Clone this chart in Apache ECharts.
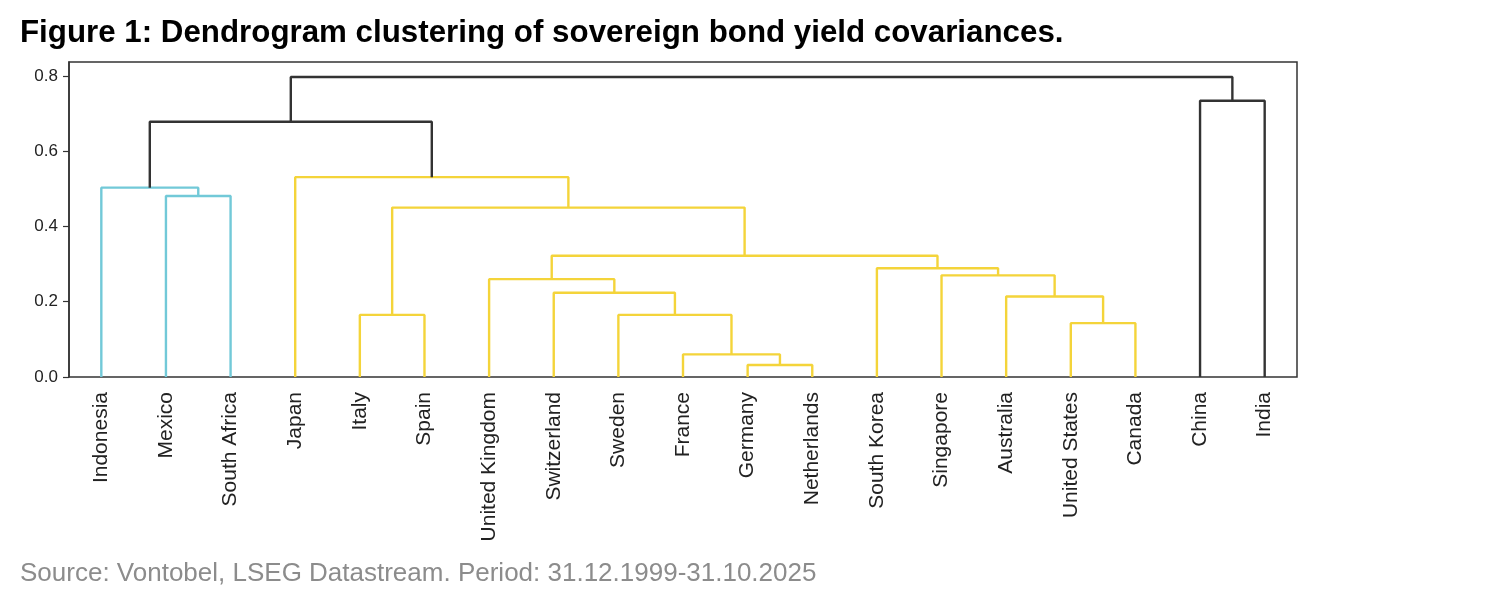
<!DOCTYPE html>
<html>
<head>
<meta charset="utf-8">
<script src="https://cdn.jsdelivr.net/npm/echarts@6/dist/echarts.min.js"></script>
<style>
html,body{margin:0;padding:0;background:#fff;}
#c{width:1500px;height:604px;}
</style>
</head>
<body>
<div id="c"></div>
<script>
// ---- Data ----
var leaves = ['Indonesia','Mexico','South Africa','Japan','Italy','Spain','United Kingdom','Switzerland','Sweden','France','Germany','Netherlands','South Korea','Singapore','Australia','United States','Canada','China','India'];
// Linkage rows: [left id, right id] (ids >= leaves.length refer to earlier merges)
var mergePairs = [
  [10, 11], [9, 19], [8, 20], [7, 21], [6, 22],
  [15, 16], [14, 24], [13, 25], [12, 26], [23, 27],
  [4, 5], [29, 28], [3, 30],
  [1, 2], [0, 32], [33, 31],
  [17, 18], [34, 35]
];
var mergeHeights = [
  0.032, 0.060, 0.165, 0.224, 0.260,
  0.143, 0.214, 0.270, 0.289, 0.322,
  0.165, 0.450, 0.531,
  0.481, 0.503, 0.678,
  0.734, 0.797
];
var yTicks = [0.0, 0.2, 0.4, 0.6, 0.8];

// ---- Build dendrogram links ----
var n = leaves.length;
var nodeX = [], nodeH = [], nodeLeaves = [];
for (var i = 0; i < n; i++) { nodeX.push(5 + 10 * i); nodeH.push(0); nodeLeaves.push([i]); }
mergePairs.forEach(function (p, k) {
  nodeX.push((nodeX[p[0]] + nodeX[p[1]]) / 2);
  nodeH.push(mergeHeights[k]);
  nodeLeaves.push(nodeLeaves[p[0]].concat(nodeLeaves[p[1]]));
});
var maxH = Math.max.apply(null, mergeHeights);
var threshold = 0.7 * maxH;
var palette = ['#72c9d8', '#f4d43a'];
var aboveColor = '#333333';
var clusterColorOfLeaf = {};
var topNodes = [];
for (var id = n; id < n + mergePairs.length; id++) {
  var h = nodeH[id];
  if (h < threshold) {
    var parentIdx = mergePairs.findIndex(function (p) { return p[0] === id || p[1] === id; });
    var ph = parentIdx >= 0 ? mergeHeights[parentIdx] : Infinity;
    if (ph >= threshold) topNodes.push(id);
  }
}
topNodes.sort(function (a, b) { return nodeX[a] - nodeX[b]; });
topNodes.forEach(function (id, ci) {
  nodeLeaves[id].forEach(function (l) { clusterColorOfLeaf[l] = palette[ci % palette.length]; });
});

var series = [];
mergePairs.forEach(function (p, k) {
  var h = mergeHeights[k];
  var col = h < threshold ? clusterColorOfLeaf[nodeLeaves[n + k][0]] : aboveColor;
  series.push({
    type: 'line',
    xAxisIndex: 0,
    yAxisIndex: 0,
    symbol: 'none',
    silent: true,
    animation: false,
    lineStyle: { color: col, width: 2.4 },
    data: [[nodeX[p[0]], nodeH[p[0]]], [nodeX[p[0]], h], [nodeX[p[1]], h], [nodeX[p[1]], nodeH[p[1]]]]
  });
});

var chart = echarts.init(document.getElementById('c'), null, { renderer: 'canvas' });
chart.setOption({
  backgroundColor: '#ffffff',
  animation: false,
  title: {
    text: 'Figure 1: Dendrogram clustering of sovereign bond yield covariances.',
    left: 15, top: 13,
    textStyle: { fontFamily: 'Liberation Sans, Arial, sans-serif', fontWeight: 'bold', fontSize: 31.3, color: '#000' }
  },
  graphic: [{
    type: 'text',
    left: 20, top: 561,
    style: { text: 'Source: Vontobel, LSEG Datastream. Period: 31.12.1999-31.10.2025', fontFamily: 'Liberation Sans, Arial, sans-serif', fontSize: 26, fill: '#8c8c8c' }
  }],
  grid: { left: 69, right: 203, top: 62, bottom: 227, show: true, borderColor: '#333', borderWidth: 1.5, backgroundColor: 'transparent' },
  xAxis: [{
    type: 'value', min: 0, max: n * 10,
    axisLine: { show: false }, axisTick: { show: false }, axisLabel: { show: false }, splitLine: { show: false }
  }, {
    type: 'category', data: leaves, position: 'bottom', boundaryGap: true,
    axisLine: { show: false }, axisTick: { show: false }, splitLine: { show: false },
    axisLabel: { rotate: 90, margin: 15, interval: 0, fontSize: 21, color: '#222', fontFamily: 'Liberation Sans, Arial, sans-serif' }
  }],
  yAxis: [{
    type: 'value', min: 0, max: maxH * 1.05, interval: 0.2,
    axisLine: { show: true, lineStyle: { color: '#333', width: 1.5 } },
    axisTick: { show: true, length: 6, lineStyle: { color: '#333', width: 1.2 } },
    splitLine: { show: false },
    axisLabel: {
      showMaxLabel: false, margin: 11, fontSize: 17, color: '#222', fontFamily: 'Liberation Sans, Arial, sans-serif',
      formatter: function (v) { return yTicks.indexOf(Math.round(v * 10) / 10) >= 0 && Math.abs(v * 5 - Math.round(v * 5)) < 1e-6 ? v.toFixed(1) : ''; }
    }
  }],
  series: series
});
</script>
</body>
</html>
